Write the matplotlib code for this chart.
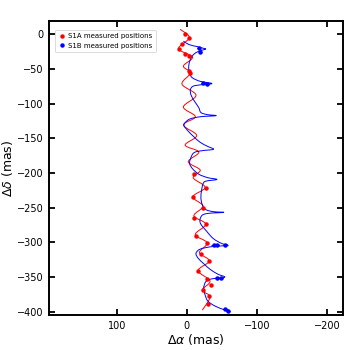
import numpy as np
import matplotlib
matplotlib.use("Agg")
import matplotlib.pyplot as plt
from matplotlib.path import Path
from matplotlib.patches import PathPatch

# ---- S1A orbit model track (turning points) ----
s1a_model_y = [7, -5, -21, -33, -46, -56, -72, -88, -105, -119, -131, -146, -160, -170,
               -184, -196, -207, -221, -234.5, -248, -262, -274, -289, -301, -315, -327,
               -341, -356, -369, -379, -398]
s1a_model_x = [9.6, -3.5, 12, -8, 5, -5, 7, -13, 5, -12, 5, -14, 2.5, -17,
               -2, -19, -9, -26, -8.5, -23, -10, -27, -12, -29, -18, -32,
               -16, -33, -22, -33, -22]

# ---- S1B orbit model track ----
s1b_model_y = [-10, -15, -18, -20.5, -21.5, -23, -26, -31, -39, -48, -57, -63, -68, -71.2,
               -73, -75, -80, -88, -97, -106, -113, -116, -117.5, -119, -122, -127, -132,
               -140, -148, -156, -162, -166, -168, -171, -180, -187, -194, -202, -207,
               -209.5, -212, -216, -225, -236, -246, -253, -256, -257, -258.5, -262, -272,
               -284, -295, -302, -304.5, -306.5, -310, -316, -323, -331, -339, -346, -350.5,
               -353, -357, -366, -376, -385, -392, -397, -400]
s1b_model_x = [5, -3, -15, -24, -27, -22, -14, -8, -4, -2.5, -4, -8, -19, -36,
               -20, -9, -5, -6, -11, -17, -20, -29, -42, -20, -5, 2, 4,
               -2, -10, -19, -30, -38, -22, -10, -5, -4, -8, -17, -30,
               -43, -27, -23, -21, -20, -22, -27, -38, -53, -30, -21, -19,
               -28, -38, -50, -58, -35, -19, -13, -16, -24, -33, -44, -54,
               -35, -27, -24, -26, -30, -40, -52, -60]

# ---- measured positions ----
s1a_y = [0, -4.8, -14.4, -21.7, -28.9, -31.3, -53, -55.3,
         -201.7, -221.5, -234.4, -250, -264.5, -273.8, -290.6, -301.6, -317.5, -327,
         -341.5, -353, -361.7, -369, -377.5, -389]
s1a_x = [2.5, -3.2, 7.2, 12, 2.5, -2.3, -2.3, -4.7,
         -9.5, -27, -8, -22.3, -10.5, -27, -13, -28.6, -20.4, -32,
         -15.7, -28.6, -34, -22.3, -32, -30]

s1b_y = [-19.3, -25, -69.7, -71.2, -304, -304, -304, -351, -351.5, -397, -399]
s1b_x = [-16.6, -19, -23.7, -29, -38, -43, -55, -43, -48, -55, -59]
s1b_xerr = [2, 2, 3, 3, 3, 3, 3, 3, 3, 3, 3]


def smooth_path(xs, ys):
    pts = np.column_stack([xs, ys]).astype(float)
    P = np.vstack([pts[0], pts, pts[-1]])
    verts = [pts[0]]
    codes = [Path.MOVETO]
    for i in range(1, len(P) - 2):
        p0, p1, p2, p3 = P[i - 1], P[i], P[i + 1], P[i + 2]
        verts += [p1 + (p2 - p0) / 6.0, p2 - (p3 - p1) / 6.0, p2]
        codes += [Path.CURVE4] * 3
    return Path(verts, codes)


fig = plt.figure(figsize=(3.5, 3.5), dpi=100)
ax = fig.add_axes([0.14, 0.10, 0.84, 0.84])

ax.add_patch(PathPatch(smooth_path(s1a_model_x, s1a_model_y), fill=False,
                       edgecolor="red", lw=0.7, zorder=2))
ax.add_patch(PathPatch(smooth_path(s1b_model_x, s1b_model_y), fill=False,
                       edgecolor="blue", lw=0.7, zorder=2))

ax.errorbar(s1a_x, s1a_y, xerr=1, yerr=1, fmt="none", ecolor="red",
            elinewidth=0.6, capsize=0, zorder=3)
ax.plot(s1a_x, s1a_y, "o", ms=2.2, color="red", ls="none",
        label="S1A measured positions", zorder=3)
ax.errorbar(s1b_x, s1b_y, xerr=s1b_xerr, yerr=1, fmt="none", ecolor="blue",
            elinewidth=0.8, capsize=0, zorder=3)
ax.plot(s1b_x, s1b_y, "o", ms=2.2, color="blue", ls="none",
        label="S1B measured positions", zorder=3)

ax.set_xlim(197, -223)
ax.set_ylim(-405, 19)
ax.set_xticks([100, 0, -100, -200])
ax.set_yticks(np.arange(0, -401, -50))

ax.set_xlabel(r"$\Delta\alpha$ (mas)", fontsize=9, labelpad=1)
ax.set_ylabel(r"$\Delta\delta$ (mas)", fontsize=9, labelpad=1)
ax.tick_params(direction="in", top=True, right=True, length=4, width=1.3,
               labelsize=7, pad=4)
for s in ax.spines.values():
    s.set_linewidth(1.4)

leg = ax.legend(loc="upper left", bbox_to_anchor=(0.02, 0.97), borderaxespad=0,
                fontsize=5, numpoints=1, handlelength=1.0, handletextpad=0.4,
                borderpad=0.5, labelspacing=0.5, frameon=True, fancybox=True)
leg.get_frame().set_linewidth(0.6)
leg.get_frame().set_edgecolor("#cccccc")

fig.savefig("out.png", dpi=100)
